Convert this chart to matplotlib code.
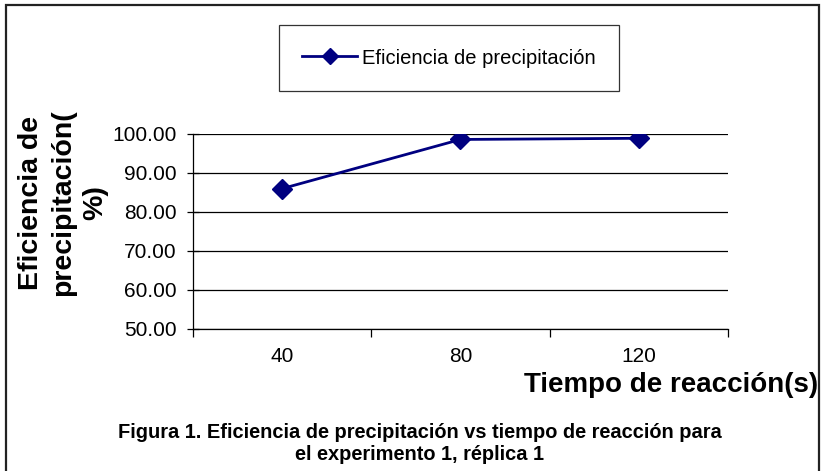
import matplotlib
matplotlib.use("Agg")
import matplotlib.pyplot as plt
from matplotlib.patches import Rectangle

plt.rcParams['font.family'] = ['Liberation Sans', 'DejaVu Sans']

# datos
tiempos = ["40", "80", "120"]
eficiencia = [86.0, 98.6, 98.9]
y_ticks = [50, 60, 70, 80, 90, 100]
serie = "Eficiencia de precipitación"

W, H = 825, 471
fig = plt.figure(figsize=(W / 100, H / 100), dpi=100)

# area del grafico (pixeles -> fraccion de figura)
x0, x1, ytop, ybot = 193, 728, 134, 329
ax = fig.add_axes([x0 / W, 1 - ybot / H, (x1 - x0) / W, (ybot - ytop) / H])

pos = list(range(len(tiempos)))
ax.plot(pos, eficiencia, color="#000080", lw=2.0, marker="D", markersize=10,
        label=serie)

ax.set_ylim(50, 100)
ax.set_xlim(-0.5, len(tiempos) - 0.5)
ax.set_yticks(y_ticks)
ax.set_yticklabels(["%.2f" % v for v in y_ticks], fontsize=15)
ax.yaxis.grid(True, color="black", lw=0.9)
ax.set_axisbelow(True)

# ticks entre categorias, etiquetas en el centro
ax.set_xticks([p - 0.5 for p in pos] + [pos[-1] + 0.5])
ax.set_xticklabels([])
ax.set_xticks(pos, minor=True)
ax.set_xticklabels(tiempos, minor=True, fontsize=15)
ax.tick_params(axis="x", which="major", direction="out", length=6, width=0.9)
ax.tick_params(axis="x", which="minor", length=0, pad=13)
ax.tick_params(axis="y", direction="inout", length=8, width=0.9, pad=8)

for s in ["top", "right"]:
    ax.spines[s].set_visible(False)
for s in ["left", "bottom"]:
    ax.spines[s].set_linewidth(0.9)

fig.text(18 / W, 1 - 203 / H, "Eficiencia de\nprecipitación(\n%)", rotation=90,
         fontsize=20.5, fontweight="bold", ha="left", va="center",
         multialignment="center", linespacing=1.3)
fig.text(818 / W, 1 - 385 / H, "Tiempo de reacción(s)", fontsize=20,
         fontweight="bold", ha="right", va="center")
fig.text(420 / W, 1 - 432 / H,
         "Figura 1. Eficiencia de precipitación vs tiempo de reacción para",
         fontsize=14.4, fontweight="bold", ha="center", va="center")
fig.text(420 / W, 1 - 455 / H, "el experimento 1, réplica 1",
         fontsize=14.4, fontweight="bold", ha="center", va="center")

leg = fig.legend(loc="center", bbox_to_anchor=(449 / W, 1 - 58 / H),
                 fontsize=14.5, frameon=True, fancybox=False, shadow=False,
                 handlelength=2.7, handletextpad=0.25, borderpad=1.15,
                 markerscale=0.8)
leg.get_frame().set_edgecolor("black")
leg.get_frame().set_linewidth(0.9)

# marco exterior
fig.patches.append(Rectangle((6 / W, -0.05), 813 / W, 1.05 - 5 / H,
                             transform=fig.transFigure, fill=False,
                             edgecolor="#222222", lw=1.6))

fig.savefig("out.png", dpi=100)
